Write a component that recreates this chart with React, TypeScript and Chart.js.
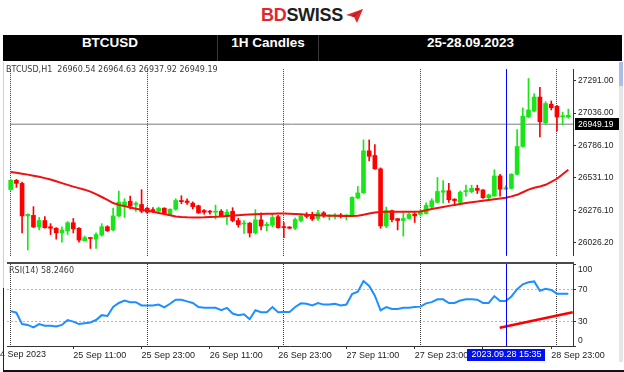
import React, { useEffect, useRef } from "react";
import { Chart, registerables } from "chart.js";

Chart.register(...registerables);

// ---- data (hourly candles, index 0 = 25 Sep 00:00) ----
const opens = [
  26441, 26513, 26489, 26236, 26240, 26150, 26200, 26152, 26140, 26104,
  26120, 26183, 26140, 26043, 26067, 26055, 26086, 26152, 26127, 26236,
  26308, 26350, 26325, 26325, 26296, 26285, 26272, 26296, 26248, 26288,
  26356, 26352, 26335, 26315, 26278, 26272, 26265, 26272, 26243, 26272,
  26200, 26173, 26180, 26104, 26205, 26160, 26163, 26230, 26150, 26150,
  26140, 26200, 26248, 26248, 26216, 26260, 26234, 26236, 26242, 26236,
  26236, 26375, 26416, 26742, 26706, 26602, 26158, 26277, 26215, 26200,
  26216, 26250, 26248, 26255, 26305, 26342, 26420, 26432, 26366, 26342,
  26425, 26425, 26450, 26438, 26378, 26390, 26547, 26445, 26450, 26560,
  26776, 27005, 27051, 27160, 26960, 27105, 27088, 27005, 27005,
];
const highs = [
  26520, 26520, 26500, 26252, 26308, 26225, 26230, 26176, 26145, 26152,
  26192, 26216, 26145, 26079, 26070, 26104, 26176, 26160, 26296, 26429,
  26370, 26390, 26345, 26440, 26305, 26300, 26305, 26300, 26292, 26370,
  26393, 26368, 26345, 26320, 26285, 26280, 26320, 26285, 26285, 26300,
  26218, 26200, 26185, 26285, 26260, 26185, 26250, 26240, 26185, 26152,
  26220, 26240, 26262, 26265, 26280, 26270, 26245, 26255, 26255, 26245,
  26385, 26465, 26827, 26827, 26790, 26610, 26305, 26282, 26215, 26260,
  26260, 26260, 26285, 26337, 26370, 26535, 26510, 26490, 26370, 26430,
  26475, 26475, 26475, 26440, 26405, 26595, 26560, 26470, 26565, 26908,
  27076, 27305, 27187, 27235, 27125, 27130, 27095, 27043, 27067,
];
const lows = [
  26435, 26458, 26104, 25971, 26145, 26127, 26140, 26091, 26055, 26031,
  26091, 26104, 26031, 26039, 25983, 25983, 26079, 26115, 26120, 26230,
  26224, 26290, 26270, 26260, 26255, 26262, 26265, 26245, 26240, 26280,
  26330, 26325, 26290, 26255, 26250, 26250, 26212, 26230, 26170, 26190,
  26148, 26099, 26072, 26095, 26127, 26120, 26150, 26140, 26067, 26135,
  26130, 26190, 26220, 26200, 26200, 26225, 26205, 26215, 26220, 26205,
  26230, 26370, 26410, 26664, 26597, 26140, 26145, 26190, 26127, 26079,
  26210, 26185, 26236, 26250, 26300, 26336, 26335, 26340, 26320, 26335,
  26390, 26415, 26410, 26372, 26370, 26390, 26390, 26440, 26445, 26555,
  26770, 27000, 27045, 26850, 26950, 27060, 26896, 26946, 26995,
];
const closes = [
  26513, 26489, 26236, 26248, 26150, 26200, 26144, 26140, 26104, 26127,
  26183, 26135, 26048, 26067, 26060, 26091, 26152, 26120, 26236, 26344,
  26344, 26313, 26335, 26272, 26265, 26272, 26296, 26255, 26288, 26356,
  26347, 26340, 26308, 26260, 26265, 26265, 26272, 26236, 26265, 26200,
  26168, 26180, 26104, 26205, 26157, 26170, 26224, 26144, 26145, 26140,
  26208, 26236, 26232, 26212, 26260, 26236, 26240, 26241, 26236, 26240,
  26380, 26415, 26742, 26700, 26602, 26158, 26277, 26207, 26200, 26216,
  26248, 26236, 26272, 26318, 26354, 26426, 26432, 26362, 26355, 26420,
  26432, 26450, 26435, 26378, 26400, 26547, 26443, 26455, 26560, 26776,
  27012, 27060, 27160, 26968, 27110, 27077, 27005, 27015, 27018,
];
const movingAverage = [
  26578, 26571, 26564, 26557, 26549, 26540, 26530, 26519, 26505, 26491,
  26477, 26464, 26452, 26440, 26425, 26405, 26383, 26360, 26336, 26322,
  26312, 26302, 26292, 26284, 26276, 26268, 26259, 26250, 26241, 26232,
  26228, 26225, 26224, 26224, 26225, 26227, 26229, 26232, 26236, 26239,
  26242, 26245, 26247, 26249, 26251, 26252, 26253, 26254, 26254, 26252,
  26250, 26248, 26245, 26243, 26241, 26240, 26238, 26237, 26236, 26236,
  26236, 26237, 26245, 26255, 26263, 26267, 26268, 26268, 26268, 26268,
  26268, 26268, 26270, 26280, 26290, 26298, 26306, 26314, 26320, 26328,
  26336, 26343, 26348, 26354, 26360, 26366, 26372, 26378, 26388, 26400,
  26420, 26440, 26455, 26465, 26478, 26500, 26525, 26560, 26595,
];
const rsi14 = [
  43, 41, 27, 26, 23, 27, 25, 25, 24, 26,
  32, 30, 27, 28, 29, 32, 38, 37, 48, 53,
  56, 54, 54, 50, 50, 50, 51, 47.5, 52, 57,
  57, 55, 53, 48, 47, 47, 47, 44, 47, 40,
  38, 39, 33, 44, 41.5, 41.5, 48, 41.5, 42, 42,
  48, 52.5, 52, 50, 53, 51, 51, 52, 50, 51,
  64, 67, 80, 74, 62, 44, 48, 45.5, 45.5, 47,
  47, 48, 48.5, 52.5, 54, 57.5, 57.5, 53, 53, 56,
  57.5, 57.5, 57, 53, 53, 61.5, 55.5, 55.5, 61, 70,
  76, 78.5, 79.5, 68, 70.5, 69, 64.5, 64.5, 64.5,
];

const priceTicks = [26026.2, 26276.1, 26531.1, 26786.1, 27036.0, 27291.0];
const rsiTicks = [0, 30, 70, 100];
const rsiGridLevels = [30, 70];
const daySeparatorIdx = [0, 24, 48, 72, 96];
const timeTickIdx = [11, 23, 35, 47, 59, 71, 83, 95];
const timeTickLabels = [
  "25 Sep 11:00", "25 Sep 23:00", "26 Sep 11:00", "26 Sep 23:00",
  "27 Sep 11:00", "27 Sep 23:00", "28 Sep 11:00", "28 Sep 23:00",
];
const firstDateLabel = "24 Sep 2023";
const cursorIdx = 87;
const cursorLabel = "2023.09.28 15:35";
const lastPrice = 26949.19;
const priceLineIdx = [-0.12, 98.82];
const trendIdx = [85.94, 98.77];
const trendRsi = [22.5, 41.5];
const ohlcTitle = "BTCUSD,H1  26960.54 26964.63 26937.92 26949.19";
const rsiTitle = "RSI(14) 58.2460";

const X_MIN = -0.65;
const X_MAX = 98.82;
const AXIS_FONT = "'Liberation Sans', Arial, sans-serif";
const TITLE_FONT = "'DejaVu Sans', Verdana, sans-serif";
const UP = "#19e619";
const DOWN = "#ff0000";

const setTicks = (vals: number[]) => (s: any) => {
  s.ticks = vals.map((v) => ({ value: v }));
};

const mainDeco = {
  id: "mainDeco",
  beforeDraw(chart: any) {
    const { ctx } = chart;
    ctx.save();
    ctx.font = `8px ${TITLE_FONT}`;
    ctx.fillStyle = "#3a3a3a";
    ctx.textBaseline = "middle";
    ctx.fillText(ohlcTitle, 6, 8);
    ctx.restore();
  },
  afterDraw(chart: any) {
    const { ctx, chartArea: a, scales } = chart;
    ctx.save();
    const x = Math.round(scales.x.getPixelForValue(cursorIdx)) + 0.5;
    ctx.strokeStyle = "#0000ff";
    ctx.lineWidth = 1;
    ctx.beginPath();
    ctx.moveTo(x, a.top);
    ctx.lineTo(x, a.bottom);
    ctx.stroke();
    const y = Math.round(scales.y.getPixelForValue(lastPrice));
    ctx.fillStyle = "#000";
    ctx.fillRect(a.right + 2, y - 6, 44, 12);
    ctx.fillStyle = "#fff";
    ctx.font = `8.5px ${AXIS_FONT}`;
    ctx.textBaseline = "middle";
    ctx.fillText(lastPrice.toFixed(2), a.right + 5, y + 0.5);
    ctx.restore();
  },
};

const rsiDeco = {
  id: "rsiDeco",
  beforeDraw(chart: any) {
    const { ctx } = chart;
    ctx.save();
    ctx.font = `8px ${TITLE_FONT}`;
    ctx.fillStyle = "#3a3a3a";
    ctx.textBaseline = "middle";
    ctx.fillText(rsiTitle, 9, 9);
    ctx.restore();
  },
  afterDraw(chart: any) {
    const { ctx, chartArea: a, scales } = chart;
    ctx.save();
    // separator between panels
    ctx.fillStyle = "#4a4a4a";
    ctx.fillRect(a.left, 0, a.right - a.left + 1, 2);
    // cursor line
    const x = Math.round(scales.x.getPixelForValue(cursorIdx)) + 0.5;
    ctx.strokeStyle = "#0000ff";
    ctx.lineWidth = 1;
    ctx.beginPath();
    ctx.moveTo(x, a.top);
    ctx.lineTo(x, a.bottom);
    ctx.stroke();
    // right labels (clamped inside the panel like the terminal does)
    ctx.font = `8.5px ${AXIS_FONT}`;
    ctx.fillStyle = "#222";
    ctx.textBaseline = "middle";
    rsiTicks.forEach((v) => {
      let y = scales.y.getPixelForValue(v);
      y = Math.min(Math.max(y, a.top + 6), a.bottom - 5);
      ctx.fillText(String(v), a.right + 5, y);
    });
    // first (clipped) date label
    ctx.font = `9px ${AXIS_FONT}`;
    ctx.textBaseline = "top";
    ctx.fillText(firstDateLabel, -5, a.bottom + 4);
    // cursor time box
    const w = ctx.measureText(cursorLabel).width + 8;
    ctx.fillStyle = "#0010f0";
    ctx.fillRect(Math.round(x - w / 2), a.bottom + 3, Math.round(w), 12);
    ctx.fillStyle = "#fff";
    ctx.textAlign = "center";
    ctx.fillText(cursorLabel, x, a.bottom + 4);
    ctx.restore();
  },
};

function MainPanel() {
  const ref = useRef<HTMLCanvasElement>(null);
  useEffect(() => {
    const idx = opens.map((_, i) => i);
    const isUp = idx.map((i) => closes[i] >= opens[i]);
    const chart = new Chart(ref.current as HTMLCanvasElement, {
      type: "bar",
      data: {
        datasets: [
          {
            type: "line",
            data: priceLineIdx.map((x) => ({ x, y: lastPrice })),
            borderColor: "#7a7a7a",
            borderWidth: 1,
            pointRadius: 0,
            order: 4,
          } as any,
          {
            type: "bar",
            data: idx.map((i) => ({ x: i, y: [lows[i], highs[i]] })),
            backgroundColor: isUp.map((u) => (u ? UP : DOWN)),
            barThickness: 1,
            grouped: false,
            borderWidth: 0,
            order: 3,
          } as any,
          {
            type: "bar",
            data: idx.map((i) => ({ x: i, y: [opens[i], closes[i]] })),
            backgroundColor: isUp.map((u) => (u ? UP : DOWN)),
            barThickness: 4,
            grouped: false,
            borderWidth: 0,
            minBarLength: 1,
            order: 2,
          } as any,
          {
            type: "line",
            data: idx.map((i) => ({ x: i, y: movingAverage[i] })),
            borderColor: "#f01010",
            borderWidth: 2,
            pointRadius: 0,
            tension: 0,
            order: 1,
          } as any,
        ],
      },
      options: {
        animation: false,
        responsive: false,
        maintainAspectRatio: false,
        events: [],
        layout: { padding: { left: 7, right: 0, top: 0, bottom: 0 } },
        plugins: { legend: { display: false }, tooltip: { enabled: false } },
        scales: {
          x: {
            type: "linear",
            min: X_MIN,
            max: X_MAX,
            offset: false,
            afterBuildTicks: setTicks(daySeparatorIdx),
            ticks: { display: false },
            grid: { color: "#3c3c3c", drawTicks: false, offset: false, lineWidth: 1 },
            border: { display: false, dash: [1, 1] },
            afterFit: (s: any) => {
              s.height = 0;
            },
          },
          y: {
            type: "linear",
            position: "right",
            min: 25925,
            max: 27377.7,
            afterBuildTicks: setTicks(priceTicks),
            ticks: {
              autoSkip: false,
              padding: 2,
              color: "#222",
              font: { family: AXIS_FONT, size: 8.5 },
              callback: (v: any) => Number(v).toFixed(2),
            },
            grid: { drawOnChartArea: false, tickLength: 3, color: "#333" },
            border: { display: true, color: "#333" },
            afterFit: (s: any) => {
              s.width = 51;
            },
          },
        },
      } as any,
      plugins: [mainDeco],
    });
    return () => chart.destroy();
  }, []);
  return (
    <canvas
      ref={ref}
      width={624}
      height={201}
      style={{ position: "absolute", left: 0, top: 62, width: 624, height: 201 }}
    />
  );
}

function RsiPanel() {
  const ref = useRef<HTMLCanvasElement>(null);
  useEffect(() => {
    const chart = new Chart(ref.current as HTMLCanvasElement, {
      type: "line",
      data: {
        datasets: [
          {
            data: rsi14.map((v, i) => ({ x: i, y: v })),
            borderColor: "#1e8fff",
            borderWidth: 2,
            pointRadius: 0,
            tension: 0,
          },
          {
            data: trendIdx.map((x, k) => ({ x, y: trendRsi[k] })),
            borderColor: "#ff0000",
            borderWidth: 2.5,
            pointRadius: 0,
          },
        ],
      },
      options: {
        animation: false,
        responsive: false,
        maintainAspectRatio: false,
        events: [],
        layout: { padding: { left: 7, right: 0, top: 2, bottom: 0 } },
        plugins: { legend: { display: false }, tooltip: { enabled: false } },
        scales: {
          x: {
            type: "linear",
            position: "bottom",
            min: X_MIN,
            max: X_MAX,
            offset: false,
            afterBuildTicks: setTicks(timeTickIdx),
            ticks: {
              autoSkip: false,
              maxRotation: 0,
              minRotation: 0,
              align: "start",
              padding: 1,
              color: "#222",
              font: { family: AXIS_FONT, size: 9 },
              callback: (_v: any, i: number) => timeTickLabels[i],
            },
            grid: { drawOnChartArea: false, offset: false, tickLength: 3, color: "#333" },
            border: { display: true, color: "#333" },
            afterFit: (s: any) => {
              s.height = 26;
            },
          },
          x2: {
            type: "linear",
            position: "top",
            min: X_MIN,
            max: X_MAX,
            offset: false,
            afterBuildTicks: setTicks(daySeparatorIdx),
            ticks: { display: false },
            grid: { color: "#3c3c3c", drawTicks: false, offset: false },
            border: { display: false, dash: [1, 1] },
            afterFit: (s: any) => {
              s.height = 0;
            },
          },
          y: {
            type: "linear",
            position: "right",
            min: 0,
            max: 101,
            afterBuildTicks: setTicks(rsiTicks),
            ticks: { display: false },
            grid: {
              drawOnChartArea: true,
              tickLength: 3,
              tickColor: "#333",
              color: (c: any) =>
                c.tick && rsiGridLevels.includes(c.tick.value) ? "#b8b8b8" : "rgba(0,0,0,0)",
            },
            border: { display: true, color: "#333", dash: [2, 2] },
            afterFit: (s: any) => {
              s.width = 51;
            },
          },
        },
      } as any,
      plugins: [rsiDeco],
    });
    return () => chart.destroy();
  }, []);
  return (
    <canvas
      ref={ref}
      width={624}
      height={110}
      style={{ position: "absolute", left: 0, top: 262, width: 624, height: 110 }}
    />
  );
}

function Header() {
  const cell = (left: number, width: number, text: string) => (
    <div
      style={{
        position: "absolute",
        left,
        top: 35,
        width,
        height: 26,
        lineHeight: "26px",
        textAlign: "center",
        color: "#fff",
        font: `bold 13.5px ${AXIS_FONT}`,
        whiteSpace: "nowrap",
      }}
    >
      {text}
    </div>
  );
  return (
    <>
      <div
        style={{
          position: "absolute",
          left: 261,
          top: 5,
          height: 22,
          lineHeight: "22px",
          font: `bold 18px ${AXIS_FONT}`,
          letterSpacing: "-0.3px",
          whiteSpace: "nowrap",
        }}
      >
        <span style={{ color: "#e3262d" }}>BD</span>
        <span style={{ color: "#1e1e1e" }}>SWISS</span>
      </div>
      <svg
        style={{ position: "absolute", left: 346, top: 9 }}
        width={17}
        height={14}
        viewBox="0 0 17 14"
      >
        <polygon points="0,6 17,0 11,14 8,8" fill="#e3262d" />
        <polygon points="8,8 17,0 5,7" fill="#b81c22" />
      </svg>
      <div style={{ position: "absolute", left: 3, top: 35, width: 619, height: 26, background: "#000" }} />
      <div style={{ position: "absolute", left: 217, top: 35, width: 1, height: 26, background: "#3a3a3a" }} />
      <div style={{ position: "absolute", left: 318, top: 35, width: 1, height: 26, background: "#3a3a3a" }} />
      {cell(3, 214, "BTCUSD")}
      {cell(218, 100, "1H Candles")}
      {cell(319, 303, "25-28.09.2023")}
    </>
  );
}

export default function App() {
  return (
    <div
      style={{
        position: "fixed",
        left: 0,
        top: 0,
        width: 624,
        height: 372,
        background: "#fff",
        overflow: "hidden",
      }}
    >
      <Header />
      <MainPanel />
      <RsiPanel />
      <div style={{ position: "absolute", left: 3, top: 62, width: 1, height: 226, background: "#d0d0d0" }} />
      <div style={{ position: "absolute", left: 3, top: 288, width: 1, height: 84, background: "#222" }} />
      <div style={{ position: "absolute", left: 3, top: 370, width: 621, height: 2, background: "#111" }} />
      <div style={{ position: "absolute", left: 619, top: 62, width: 4, height: 300, background: "#e6e6e6" }} />
      <div style={{ position: "absolute", left: 619, top: 62, width: 4, height: 24, background: "#a9bfe6" }} />
    </div>
  );
}
